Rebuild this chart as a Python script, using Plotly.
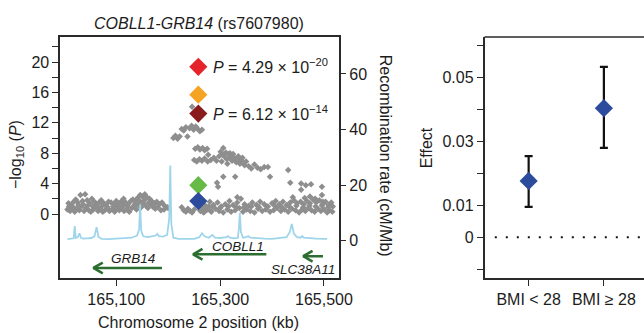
import plotly.graph_objects as go

# ---------------------------------------------------------------- data
# grey SNPs: (position in kb, -log10 P)
snps_left_upper = [
    (165008, 1.4), (165013, 1.2), (165018, 1.6), (165022, 1.9), (165026, 1.5), (165031, 2.5),
    (165035, 1.7), (165040, 2.6), (165044, 1.8), (165049, 1.4), (165053, 2.0), (165058, 1.6),
    (165062, 1.3), (165067, 1.5), (165071, 1.8), (165076, 1.4), (165080, 1.2), (165085, 1.6),
    (165090, 1.5), (165095, 1.3), (165100, 1.7), (165104, 1.4), (165109, 1.6), (165114, 2.0),
    (165118, 1.5), (165123, 1.3), (165128, 1.7), (165132, 1.9), (165137, 1.6), (165141, 2.1),
    (165146, 2.5), (165150, 2.3), (165155, 2.6), (165159, 2.2), (165164, 2.0), (165168, 1.7),
    (165173, 1.4), (165178, 1.6), (165183, 1.3), (165188, 1.5), (165193, 1.1), (165198, 0.9),
]
snps_left_mid = [
    (165009, 1.0), (165017, 0.9), (165027, 1.2), (165036, 1.3), (165045, 1.1), (165055, 1.0),
    (165064, 0.9), (165073, 1.1), (165082, 1.0), (165094, 1.0), (165103, 1.1), (165113, 1.2),
    (165122, 1.0), (165136, 1.3), (165145, 1.7), (165154, 1.8), (165163, 1.5), (165172, 1.2),
]
snps_left_lower = [
    (165006, 0.6), (165011, 0.4), (165015, 0.8), (165020, 0.3), (165024, 0.7), (165029, 0.5),
    (165033, 1.0), (165038, 0.4), (165042, 0.8), (165047, 0.5), (165051, 0.3), (165056, 0.6),
    (165060, 0.9), (165065, 0.4), (165069, 0.7), (165074, 0.3), (165078, 0.5), (165083, 0.8),
    (165087, 0.4), (165092, 0.6), (165097, 0.3), (165101, 0.7), (165106, 0.5), (165111, 0.9),
    (165115, 0.4), (165120, 0.6), (165125, 0.3), (165130, 0.8), (165134, 1.0), (165139, 0.6),
    (165143, 1.2), (165148, 0.9), (165152, 1.4), (165157, 1.1), (165161, 0.8), (165166, 1.3),
    (165170, 1.0), (165175, 0.7), (165180, 0.9), (165186, 0.5), (165192, 0.6), (165200, 0.8),
]
snps_centre_low = [
    (165226, 0.9), (165230, 0.5), (165234, 0.3), (165238, 0.7), (165242, 0.4), (165246, 0.2),
    (165250, 0.6), (165262, 0.4), (165266, 0.8), (165270, 0.3), (165274, 0.6), (165278, 1.0),
    (165282, 0.4),
]
snps_peak = [
    (165210, 10.0), (165214, 10.3), (165218, 9.9), (165222, 10.2), (165226, 11.2), (165230, 11.0),
    (165234, 11.4), (165237, 10.2), (165241, 11.3), (165245, 11.6), (165249, 11.1), (165253, 11.5),
    (165257, 11.2), (165261, 10.9), (165265, 11.1), (165246, 14.1),
    (165252, 8.6), (165257, 8.8), (165261, 8.5), (165266, 8.7), (165270, 8.4), (165275, 8.6),
    (165277, 7.8), (165250, 7.1), (165255, 6.9), (165260, 7.2), (165265, 7.0), (165270, 7.3),
    (165276, 6.9), (165282, 7.1), (165288, 7.4), (165293, 7.0),
]
snps_bump = [
    (165298, 7.6), (165301, 8.2), (165304, 7.8), (165306, 8.7), (165309, 7.5), (165311, 8.1),
    (165313, 7.2), (165316, 7.9), (165318, 7.4), (165321, 7.7), (165323, 7.0), (165326, 7.5),
    (165328, 7.2), (165331, 6.8), (165333, 7.3), (165336, 7.0), (165338, 6.6), (165341, 7.1),
    (165344, 6.7), (165347, 6.4), (165350, 6.9), (165303, 6.9), (165314, 6.6), (165319, 8.0),
    (165325, 7.9), (165335, 7.6), (165343, 7.4),
    (165355, 6.3), (165360, 6.0), (165366, 6.5), (165372, 6.1), (165378, 5.9), (165385, 6.2),
]
snps_scattered = [
    (165306, 4.9), (165294, 4.1), (165296, 3.6), (165329, 4.9), (165396, 4.9), (165392, 6.2),
    (165431, 5.8), (165435, 4.1), (165456, 4.0), (165465, 3.8), (165475, 3.9), (165456, 3.2),
    (165496, 3.6), (165333, 2.2), (165440, 2.2), (165463, 2.1), (165473, 2.3), (165483, 2.0),
    (165496, 2.5), (165498, 1.6),
]
snps_right_upper = [
    (165265, 1.4), (165272, 1.1), (165280, 1.6), (165287, 1.2), (165295, 1.5), (165302, 1.0),
    (165310, 1.3), (165318, 1.7), (165325, 1.2), (165333, 1.5), (165340, 2.0), (165347, 1.3),
    (165355, 1.1), (165362, 1.5), (165370, 1.2), (165377, 1.6), (165385, 1.3), (165392, 1.0),
    (165400, 1.4), (165407, 1.7), (165414, 1.3), (165421, 1.6), (165428, 1.2), (165435, 1.5),
    (165442, 1.8), (165448, 1.4), (165455, 1.6), (165461, 1.3), (165467, 1.7), (165473, 1.4),
    (165479, 1.9), (165485, 1.5), (165491, 1.8), (165497, 1.3), (165503, 1.6), (165509, 1.2),
    (165514, 1.5),
]
snps_right_mid = [
    (165270, 0.9), (165285, 1.0), (165300, 0.8), (165316, 1.0), (165331, 0.9), (165346, 0.9),
    (165360, 1.0), (165375, 0.9), (165390, 1.0), (165405, 1.1), (165419, 0.9), (165433, 1.0),
    (165447, 1.1), (165460, 0.9), (165472, 1.1), (165484, 1.0), (165496, 1.1), (165508, 0.9),
    (165517, 1.0),
]
snps_right_lower = [
    (165262, 0.5), (165268, 0.2), (165276, 0.6), (165283, 0.3), (165291, 0.7), (165298, 0.4),
    (165306, 0.2), (165314, 0.6), (165321, 0.3), (165329, 0.5), (165337, 0.8), (165344, 0.3),
    (165351, 0.6), (165358, 0.4), (165366, 0.2), (165373, 0.7), (165381, 0.4), (165388, 0.6),
    (165396, 0.3), (165403, 0.5), (165410, 0.8), (165417, 0.4), (165424, 0.6), (165431, 0.3),
    (165438, 0.7), (165445, 0.5), (165452, 0.2), (165458, 0.6), (165464, 0.4), (165470, 0.8),
    (165476, 0.5), (165482, 0.3), (165488, 0.7), (165494, 0.4), (165500, 0.6), (165506, 0.2),
    (165511, 0.5), (165516, 0.3),
]

# lead SNP (rs7607980) under different analyses
lead_pos = 165258
lead_logp = [19.37, 15.7, 13.21, 3.8, 1.7]
lead_colors = ["#e4232a", "#f4a323", "#8a1b1d", "#66ba45", "#2d4b9d"]
pvalue_labels = ["<i>P</i> = 4.29 × 10<sup>−20</sup>", "<i>P</i> = 6.12 × 10<sup>−14</sup>"]
pvalue_logp = [19.37, 13.21]

# recombination rate (kb, cM/Mb)
recomb = [
    (165006, 0.5), (165012, 0.6), (165018, 0.8), (165020, 5.2), (165022, 0.9), (165026, 1.2),
    (165029, 2.6), (165032, 1.0), (165036, 0.7), (165044, 0.8), (165052, 0.9), (165058, 1.5),
    (165062, 4.8), (165066, 1.2), (165072, 0.6), (165085, 0.5), (165100, 0.6), (165115, 0.8),
    (165130, 1.0), (165140, 1.8), (165144, 4.0), (165146, 13.0), (165148, 3.5), (165152, 1.5),
    (165160, 1.2), (165168, 1.5), (165176, 1.8), (165179, 2.4), (165182, 1.6), (165190, 1.4),
    (165198, 2.0), (165202, 8.0), (165204, 27.0), (165206, 6.0), (165210, 1.0), (165220, 0.6),
    (165235, 0.5), (165250, 0.6), (165260, 1.2), (165265, 2.6), (165270, 1.5), (165278, 1.0),
    (165285, 2.0), (165290, 1.0), (165300, 0.9), (165312, 1.2), (165315, 1.6), (165318, 1.1),
    (165326, 0.8), (165334, 0.9), (165336, 4.0), (165338, 10.0), (165340, 3.0), (165344, 1.0),
    (165350, 1.2), (165354, 1.6), (165358, 1.0), (165370, 0.8), (165385, 0.7), (165400, 0.6),
    (165415, 0.8), (165428, 1.2), (165434, 3.0), (165438, 6.0), (165442, 2.5), (165448, 1.2),
    (165455, 1.0), (165458, 1.6), (165461, 1.0), (165470, 0.8), (165485, 0.7), (165500, 0.6),
    (165506, 0.6),
]

# genes (all on the minus strand)
gene_names = ["GRB14", "COBLL1", "SLC38A11"]
gene_starts = [165056, 165248, 165460]
gene_ends = [165188, 165389, 165498]

# effect by BMI stratum
bmi_groups = ["BMI < 28", "BMI ≥ 28"]
effect = [0.0176, 0.0403]
effect_low = [0.0095, 0.0279]
effect_high = [0.0253, 0.0532]

# ticks
logp_ticks = [0, 4, 8, 12, 16, 20]
logp_minor_ticks = [2, 6, 10, 14, 18, 22]
pos_ticks = [165100, 165300, 165500]
pos_ticklabels = ["165,100", "165,300", "165,500"]
recomb_ticks = [0, 20, 40, 60]
effect_ticks = [-0.01, 0, 0.01, 0.02, 0.03, 0.04, 0.05, 0.06]
effect_ticklabels = ["", "0", "0.01", "", "0.03", "", "0.05", ""]

# ---------------------------------------------------------------- layout helpers
REF_W, H = 644, 333       # reference picture size (layout measured in these pixels)
FIG_W = 660               # page width that ends up shown as 644 px
FONT = "Liberation Sans, Arial, Helvetica, sans-serif"
TXT = "#1c1c1c"
AX = "#2a2a2a"


def pxx(x):
    return x / REF_W


def pxy(y):
    return 1 - y / H


# gene track rows (left-axis units) and label offsets
gene_row_arrow = {"GRB14": -7.1, "COBLL1": -5.3, "SLC38A11": -5.55}
gene_row_label = {"GRB14": -5.8, "COBLL1": -4.3, "SLC38A11": -7.35}
gene_label_dx = {"GRB14": 11, "COBLL1": 15, "SLC38A11": -20}
head_dx, head_dy = 18, 0.7

fig = go.Figure()

# grey SNPs
all_snps = (snps_left_upper + snps_left_mid + snps_left_lower + snps_centre_low + snps_peak
            + snps_bump + snps_scattered + snps_right_upper + snps_right_mid + snps_right_lower)
fig.add_trace(go.Scatter(
    x=[p for p, _ in all_snps], y=[v for _, v in all_snps], xaxis="x", yaxis="y",
    mode="markers", marker=dict(symbol="diamond", size=5, color="#8e8e8e", line=dict(width=0)),
))

# gene arrows
for name, s, e in zip(gene_names, gene_starts, gene_ends):
    yy = gene_row_arrow[name]
    fig.add_trace(go.Scatter(
        x=[e, s, None, s + head_dx, s, s + head_dx],
        y=[yy, yy, None, yy + head_dy, yy, yy - head_dy],
        xaxis="x", yaxis="y", mode="lines",
        line=dict(color="#2b6e2f", width=2.6),
    ))

# lead SNP diamonds
fig.add_trace(go.Scatter(
    x=[lead_pos] * len(lead_logp), y=lead_logp, xaxis="x", yaxis="y", mode="markers",
    marker=dict(symbol="diamond", size=14, color=lead_colors, line=dict(width=0)),
))

# recombination rate
fig.add_trace(go.Scatter(
    x=[p for p, _ in recomb], y=[r for _, r in recomb], xaxis="x", yaxis="y2",
    mode="lines", line=dict(color="#9fd5ea", width=1.8),
))

# effect panel
fig.add_trace(go.Scatter(
    x=[1, 2], y=effect, xaxis="x3", yaxis="y3", mode="markers",
    marker=dict(symbol="diamond", size=14, color="#2d4b9d", line=dict(width=0)),
    error_y=dict(type="data", symmetric=False,
                 array=[h - m for h, m in zip(effect_high, effect)],
                 arrayminus=[m - l for m, l in zip(effect, effect_low)],
                 color="#111111", thickness=2.2, width=4),
))

tickfont = dict(family=FONT, size=16, color=TXT)
ydom = [pxy(278), pxy(37)]

fig.update_layout(
    width=FIG_W, height=H, margin=dict(l=0, r=0, t=0, b=0),
    paper_bgcolor="white", plot_bgcolor="white", showlegend=False,
    font=dict(family=FONT, size=16, color=TXT),
    xaxis=dict(domain=[pxx(60), pxx(338)], anchor="y", range=[164992, 165529],
               tickmode="array", tickvals=pos_ticks, ticktext=pos_ticklabels,
               ticks="outside", ticklen=6, tickwidth=1.4, tickcolor=AX,
               showline=True, mirror=True, linecolor=AX, linewidth=1.5,
               showgrid=False, zeroline=False, tickfont=tickfont),
    yaxis=dict(domain=ydom, anchor="x", range=[-8.42, 23.29],
               tickmode="array", tickvals=logp_ticks,
               ticks="outside", ticklen=6, tickwidth=1.4, tickcolor=AX,
               minor=dict(tickvals=logp_minor_ticks, ticks="outside", ticklen=6,
                          tickwidth=1.4, tickcolor=AX, showgrid=False),
               showline=True, mirror=True, linecolor=AX, linewidth=1.5,
               showgrid=False, zeroline=False, tickfont=tickfont),
    yaxis2=dict(overlaying="y", anchor="x", side="right", range=[-13.51, 73.33],
                tickmode="array", tickvals=recomb_ticks,
                ticks="outside", ticklen=6, tickwidth=1.4, tickcolor=AX,
                showline=False, showgrid=False, zeroline=False, tickfont=tickfont),
    xaxis3=dict(domain=[pxx(483), 1.0], anchor="y3", range=[0.413, 2.56],
                tickmode="array", tickvals=[1, 2], ticktext=bmi_groups,
                ticks="outside", ticklen=6, tickwidth=1.4, tickcolor=AX,
                showline=True, mirror=False, linecolor=AX, linewidth=1.5,
                showgrid=False, zeroline=False, tickfont=tickfont),
    yaxis3=dict(domain=ydom, anchor="x3", range=[-0.0127, 0.0625],
                tickmode="array", tickvals=effect_ticks, ticktext=effect_ticklabels,
                ticks="outside", ticklen=6, tickwidth=1.4, tickcolor=AX,
                showline=True, mirror=False, linecolor=AX, linewidth=1.5,
                showgrid=False, zeroline=False, tickfont=tickfont),
)

# top border of the effect panel and dotted zero line
fig.add_shape(type="line", xref="x3 domain", yref="y3 domain", x0=0, x1=1, y0=1, y1=1,
              line=dict(color=AX, width=1.5))
fig.add_shape(type="line", xref="x3", yref="y3", x0=0.55, x1=2.56, y0=0, y1=0,
              line=dict(color="#111111", width=2, dash="2px,9px"))


def label(text, x, y, **kw):
    d = dict(text=text, x=x, y=y, xref="paper", yref="paper", showarrow=False,
             xanchor="center", yanchor="middle", font=dict(size=16))
    d.update(kw)
    return d


ann = [
    label("<i>COBLL1-GRB14</i> (rs7607980)", pxx(198), pxy(23)),
    label("Chromosome 2 position (kb)", pxx(198), pxy(322)),
    label("−log<sub>10</sub> (<i>P</i>)", pxx(16), pxy(155), textangle=-90),
    label("Recombination rate (cM/Mb)", pxx(385), pxy(156), textangle=90),
    label("Effect", pxx(425), pxy(148), textangle=-90),
]
for lbl, lp in zip(pvalue_labels, pvalue_logp):
    ann.append(dict(text=lbl, x=lead_pos, y=lp, xref="x", yref="y", xanchor="left",
                    yanchor="middle", xshift=13, yshift=1, showarrow=False,
                    font=dict(size=16)))
for name, s, e in zip(gene_names, gene_starts, gene_ends):
    ann.append(dict(text=f"<i>{name}</i>", x=(s + e) / 2 + gene_label_dx[name],
                    y=gene_row_label[name], xref="x", yref="y", showarrow=False,
                    xanchor="center", yanchor="middle", font=dict(size=13.5)))
fig.update_layout(annotations=ann)

fig.write_html(
    "out.html",
    config={"displayModeBar": False},
    post_script="document.body.style.margin='0';document.body.style.overflow='hidden';",
)
